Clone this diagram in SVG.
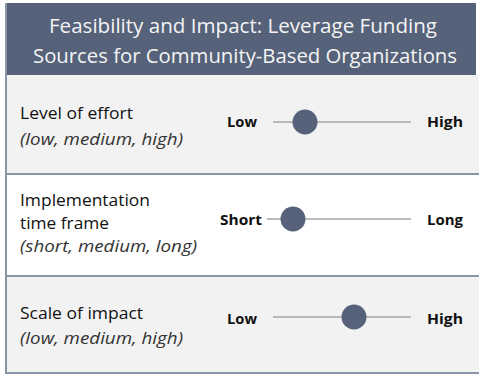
<svg xmlns="http://www.w3.org/2000/svg" width="479" height="374" viewBox="0 0 479 374">
<style>
.title{font-family:"Open Sans","Liberation Sans",sans-serif;font-size:20px;fill:#f4f4f4}
.lbl{font-family:"Open Sans","Liberation Sans",sans-serif;font-size:16px;fill:#111}
.sub{font-family:"Open Sans","Liberation Sans",sans-serif;font-size:15.5px;font-style:italic;fill:#333}
.end{font-family:"Open Sans","Liberation Sans",sans-serif;font-size:14.5px;font-weight:bold;fill:#111}
.track{stroke:#a6a6a6;stroke-width:1.5}
.knob{fill:#55627a}
.sep{stroke:#8a96a8;stroke-width:2}
</style>
<rect x="0" y="0" width="479" height="374" fill="#ffffff"/>
<g id="header">
<rect x="5" y="3" width="471" height="72" fill="#55627a"/>
<text class="title" x="49" y="33" textLength="388" lengthAdjust="spacingAndGlyphs">Feasibility and Impact: Leverage Funding</text>
<text class="title" x="33" y="63" textLength="424" lengthAdjust="spacingAndGlyphs">Sources for Community-Based Organizations</text>
</g>
<g id="row-effort">
<rect x="5" y="75" width="474" height="98" fill="#f2f2f2"/>
<text class="lbl" x="20" y="119" textLength="113" lengthAdjust="spacingAndGlyphs">Level of effort</text>
<text class="sub" x="20" y="145" textLength="163" lengthAdjust="spacingAndGlyphs">(low, medium, high)</text>
<text class="end" x="227" y="127" textLength="30" lengthAdjust="spacingAndGlyphs">Low</text>
<line class="track" x1="273" y1="122" x2="411" y2="122"/>
<circle class="knob" cx="305" cy="122" r="12.5"/>
<text class="end" x="427" y="127" textLength="36" lengthAdjust="spacingAndGlyphs">High</text>
</g>
<g id="row-timeframe">
<rect x="5" y="174" width="474" height="101" fill="#ffffff"/>
<text class="lbl" x="20" y="206" textLength="130" lengthAdjust="spacingAndGlyphs">Implementation</text>
<text class="lbl" x="20" y="229" textLength="89" lengthAdjust="spacingAndGlyphs">time frame</text>
<text class="sub" x="20" y="252" textLength="177" lengthAdjust="spacingAndGlyphs">(short, medium, long)</text>
<text class="end" x="220" y="225" textLength="42" lengthAdjust="spacingAndGlyphs">Short</text>
<line class="track" x1="267" y1="219" x2="411" y2="219"/>
<circle class="knob" cx="293" cy="219" r="12.5"/>
<text class="end" x="427" y="225" textLength="36" lengthAdjust="spacingAndGlyphs">Long</text>
</g>
<g id="row-impact">
<rect x="5" y="276" width="474" height="96" fill="#f2f2f2"/>
<text class="lbl" x="20" y="319" textLength="123" lengthAdjust="spacingAndGlyphs">Scale of impact</text>
<text class="sub" x="20" y="344" textLength="163" lengthAdjust="spacingAndGlyphs">(low, medium, high)</text>
<text class="end" x="227" y="324" textLength="30" lengthAdjust="spacingAndGlyphs">Low</text>
<line class="track" x1="273" y1="317" x2="411" y2="317"/>
<circle class="knob" cx="354" cy="317" r="12.5"/>
<text class="end" x="427" y="324" textLength="36" lengthAdjust="spacingAndGlyphs">High</text>
</g>
<g id="borders">
<line class="sep" x1="6" y1="3" x2="6" y2="373"/>
<line class="sep" x1="5" y1="174" x2="479" y2="174"/>
<line class="sep" x1="5" y1="276" x2="479" y2="276"/>
<line class="sep" x1="5" y1="373" x2="479" y2="373"/>
</g>
</svg>
